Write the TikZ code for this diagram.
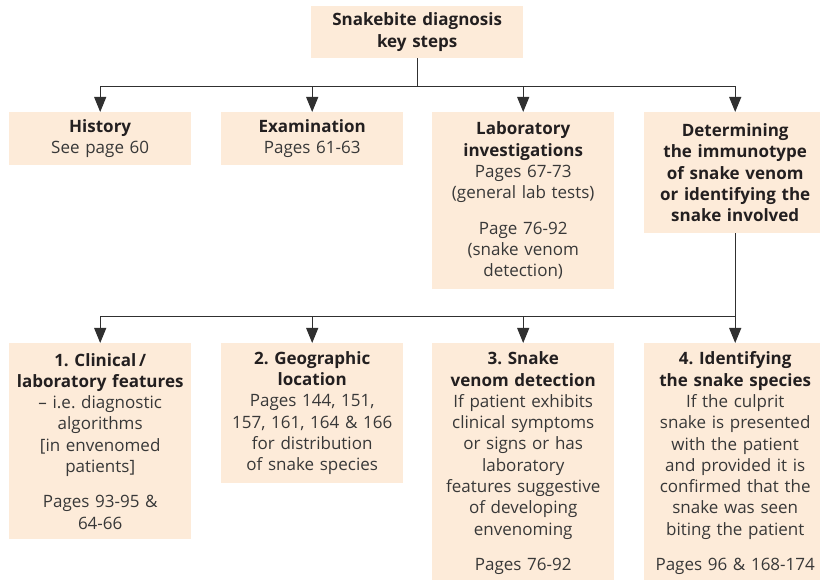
\documentclass[tikz,border=0pt]{standalone}
\usepackage{fontspec}
\setmainfont{Open Sans}
\usetikzlibrary{arrows.meta}
\definecolor{boxfill}{HTML}{FDEBD9}
\definecolor{bodytext}{HTML}{383838}
\definecolor{headtext}{HTML}{231F20}
\definecolor{linecol}{HTML}{303030}
\newcommand\headline[1]{{\bfseries\color{headtext}#1}}
\frenchspacing
\begin{document}
\begin{tikzpicture}[x=1pt,y=-1pt,
  stepbox/.style={fill=boxfill, text=bodytext, anchor=north west,
    minimum width=182pt, text width=178pt, inner xsep=2pt, inner ysep=0pt,
    align=center, font=\fontsize{17}{21.3}\selectfont},
  conn/.style={draw=linecol, line width=1.1pt},
  arr/.style={conn, -{Triangle[length=15pt,width=12pt]}}]
\useasboundingbox (0,0) rectangle (820,580);

% title
\node[stepbox, minimum width=212pt, text width=208pt, minimum height=52pt] (top) at (311,6)
  {\headline{Snakebite diagnosis\\key steps}};

% first row
\node[stepbox, minimum height=53pt] (hist) at (9,112)
  {\headline{History}\\See page 60};
\node[stepbox, minimum height=53pt] (exam) at (221,112)
  {\headline{Examination}\\Pages 61-63};
\node[stepbox, minimum height=177pt] (lab) at (432,112)
  {\headline{Laboratory\\investigations}\\Pages 67-73\\(general lab tests)\\[14pt]Page 76-92\\(snake venom\\detection)};
\node[stepbox, minimum height=121pt] (det) at (644,112)
  {\headline{Determining\\the immunotype\\of snake venom\\or identifying the\\snake involved}};

% second row
\node[stepbox, minimum height=196pt] (clin) at (9,343)
  {\headline{1. Clinical\,/\\laboratory features}\\– i.e. diagnostic\\algorithms\\{}[in envenomed\\patients]\\[14pt]Pages 93-95 \&\\64-66};
\node[stepbox, minimum height=140pt] (geo) at (221,343)
  {\headline{2. Geographic\\location}\\Pages 144, 151,\\157, 161, 164 \& 166\\for distribution\\of snake species};
\node[stepbox, minimum height=240pt] (ven) at (432,343)
  {\headline{3. Snake\\venom detection}\\If patient exhibits\\clinical symptoms\\or signs or has\\laboratory\\features suggestive\\of developing\\envenoming\\[14pt]Pages 76-92};
\node[stepbox, minimum height=240pt] (ident) at (644,343)
  {\headline{4. Identifying\\the snake species}\\If the culprit\\snake is presented\\with the patient\\and provided it is\\confirmed that the\\snake was seen\\biting the patient\\[14pt]Pages 96 \& 168-174};

% connectors: title to first row
\path (top.south) ++(0,28) coordinate (hub1);
\draw[conn] (top.south) -- (hub1);
\draw[conn] (hist.north |- hub1) -- (det.north |- hub1);
\foreach \n in {hist,exam,lab,det}
  \draw[arr] (\n.north |- hub1) -- (\n.north);

% connectors: immunotype box to second row
\path (det.south) ++(0,83) coordinate (hub2);
\draw[conn] (det.south) -- (hub2);
\draw[conn] (clin.north |- hub2) -- (ident.north |- hub2);
\foreach \n in {clin,geo,ven,ident}
  \draw[arr] (\n.north |- hub2) -- (\n.north);
\end{tikzpicture}
\end{document}
